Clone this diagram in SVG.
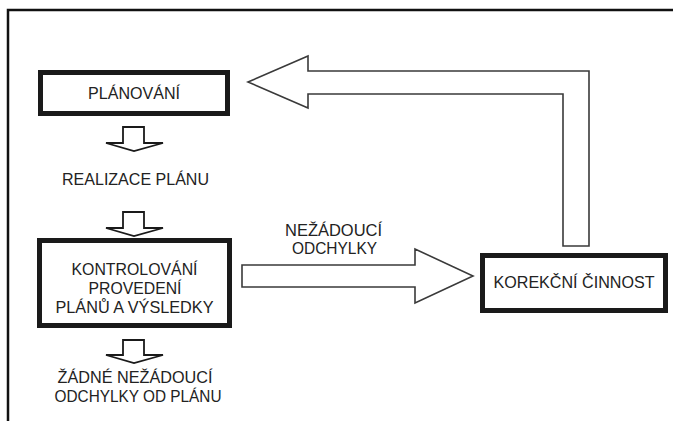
<svg xmlns="http://www.w3.org/2000/svg" width="673" height="421" viewBox="0 0 673 421">
<style>
.box{fill:#fff;stroke:#1a1a1a;stroke-width:5}
.big{fill:#fff;stroke:#3a3a3a;stroke-width:1.6;stroke-linejoin:miter}
.small{fill:#fff;stroke:#1a1a1a;stroke-width:1.8;stroke-linejoin:miter}
text{font-family:"Liberation Sans",Arial,sans-serif;font-size:17px;fill:#222;text-anchor:middle}
.lbl{font-size:16px}
</style>
<rect x="0" y="0" width="673" height="421" fill="#fff"/>
<rect id="frame" x="8" y="10" width="720" height="460" fill="none" stroke="#111" stroke-width="2.5"/>
<g id="connectors">
<polygon class="big" points="248,82 308,56 308,71 589,71 589,246 563,246 563,94 308,94 308,108"/>
<polygon class="big" points="242,265 415,265 415,249 473,276 415,303 415,287 242,287"/>
<polygon class="small" points="123,127 144,127 144,143 163,143 134,151 106,143 123,143"/>
<polygon class="small" points="123,212 144,212 144,228 163,228 134,236 106,228 123,228"/>
<polygon class="small" points="123,340 144,340 144,355 163,355 134,363 106,355 123,355"/>
</g>
<g id="planovani">
<rect class="box" x="40.5" y="72.5" width="187" height="41"/>
<text x="134" y="99" textLength="92" lengthAdjust="spacingAndGlyphs">PLÁNOVÁNÍ</text>
</g>
<g id="realizace">
<text x="135.5" y="185" textLength="147" lengthAdjust="spacingAndGlyphs">REALIZACE PLÁNU</text>
</g>
<g id="kontrolovani">
<rect class="box" x="39.5" y="240.5" width="190" height="85"/>
<text x="134.5" y="275" textLength="126" lengthAdjust="spacingAndGlyphs">KONTROLOVÁNÍ</text>
<text x="135" y="294" textLength="93" lengthAdjust="spacingAndGlyphs">PROVEDENÍ</text>
<text x="134.5" y="313" textLength="158" lengthAdjust="spacingAndGlyphs">PLÁNŮ A VÝSLEDKY</text>
</g>
<g id="zadne">
<text x="135" y="383" textLength="155" lengthAdjust="spacingAndGlyphs">ŽÁDNÉ NEŽÁDOUCÍ</text>
<text x="138" y="402" textLength="167" lengthAdjust="spacingAndGlyphs">ODCHYLKY OD PLÁNU</text>
</g>
<g id="nezadouci">
<text class="lbl" x="333.5" y="236" textLength="97" lengthAdjust="spacingAndGlyphs">NEŽÁDOUCÍ</text>
<text class="lbl" x="334.5" y="254" textLength="85" lengthAdjust="spacingAndGlyphs">ODCHYLKY</text>
</g>
<g id="korekcni">
<rect class="box" x="482.5" y="255.5" width="183" height="55"/>
<text x="574" y="288" textLength="161" lengthAdjust="spacingAndGlyphs">KOREKČNÍ ČINNOST</text>
</g>
</svg>
